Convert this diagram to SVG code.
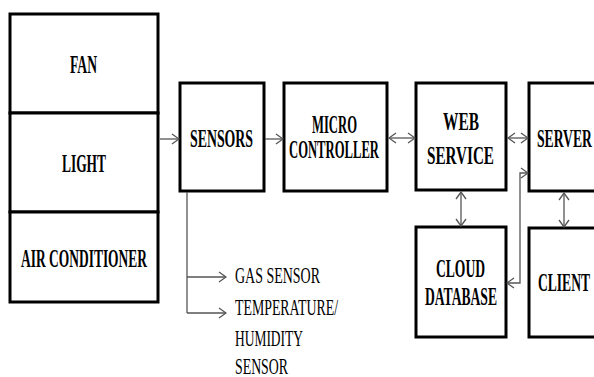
<svg xmlns="http://www.w3.org/2000/svg" width="594" height="377" viewBox="0 0 594 377">
<style>
.box{fill:#fff;stroke:#000;stroke-width:3}
.lbl{font-family:"Liberation Serif","Times New Roman",serif;font-weight:bold;font-size:25px;fill:#000}
.sub{font-family:"Liberation Serif","Times New Roman",serif;font-size:24px;fill:#000}
.conn{fill:none;stroke:#555;stroke-width:1.3}
</style>
<defs>
<marker id="ah" viewBox="0 0 10 12" refX="9" refY="6" markerWidth="10" markerHeight="12" markerUnits="userSpaceOnUse" orient="auto-start-reverse">
<path d="M2,1 L9,6 L2,11" fill="none" stroke="#555" stroke-width="1.3"/>
</marker>
</defs>
<rect width="594" height="377" fill="#fff"/>
<g id="fan">
<rect class="box" x="10" y="14" width="148" height="99"/>
<text class="lbl" x="70" y="73" textLength="27" lengthAdjust="spacingAndGlyphs">FAN</text>
</g>
<g id="light">
<rect class="box" x="10" y="113" width="148" height="99"/>
<text class="lbl" x="62" y="172" textLength="44" lengthAdjust="spacingAndGlyphs">LIGHT</text>
</g>
<g id="air-conditioner">
<rect class="box" x="10" y="212" width="148" height="90"/>
<text class="lbl" x="21" y="267" textLength="126" lengthAdjust="spacingAndGlyphs">AIR CONDITIONER</text>
</g>
<g id="sensors">
<rect class="box" x="180" y="83" width="84" height="108"/>
<text class="lbl" x="190" y="147" textLength="63" lengthAdjust="spacingAndGlyphs">SENSORS</text>
</g>
<g id="micro-controller">
<rect class="box" x="284" y="83" width="103" height="108"/>
<text class="lbl" x="312" y="133" textLength="45" lengthAdjust="spacingAndGlyphs" font-size="22">MICRO</text>
<text class="lbl" x="289" y="158" textLength="90" lengthAdjust="spacingAndGlyphs" font-size="22">CONTROLLER</text>
</g>
<g id="web-service">
<rect class="box" x="416" y="83" width="90" height="107"/>
<text class="lbl" x="443" y="130" textLength="36" lengthAdjust="spacingAndGlyphs" font-size="27">WEB</text>
<text class="lbl" x="427" y="164" textLength="67" lengthAdjust="spacingAndGlyphs" font-size="27">SERVICE</text>
</g>
<g id="server">
<rect class="box" x="529" y="83" width="80" height="108"/>
<text class="lbl" x="537" y="147" textLength="55" lengthAdjust="spacingAndGlyphs" font-size="26">SERVER</text>
</g>
<g id="cloud-database">
<rect class="box" x="416" y="227" width="90" height="110"/>
<text class="lbl" x="436" y="277" textLength="49" lengthAdjust="spacingAndGlyphs">CLOUD</text>
<text class="lbl" x="425" y="305" textLength="72" lengthAdjust="spacingAndGlyphs">DATABASE</text>
</g>
<g id="client">
<rect class="box" x="529" y="228" width="80" height="109"/>
<text class="lbl" x="538" y="291" textLength="52" lengthAdjust="spacingAndGlyphs" font-size="26">CLIENT</text>
</g>
<g id="sensor-list">
<text class="sub" x="235" y="283" textLength="85" lengthAdjust="spacingAndGlyphs">GAS SENSOR</text>
<text class="sub" x="235" y="315" textLength="103" lengthAdjust="spacingAndGlyphs">TEMPERATURE/</text>
<text class="sub" x="235" y="346" textLength="68" lengthAdjust="spacingAndGlyphs">HUMIDITY</text>
<text class="sub" x="235" y="374" textLength="53" lengthAdjust="spacingAndGlyphs">SENSOR</text>
</g>
<g id="connectors">
<line class="conn" x1="160" y1="139" x2="179" y2="139" marker-end="url(#ah)"/>
<line class="conn" x1="265" y1="139" x2="283" y2="139" marker-end="url(#ah)"/>
<line class="conn" x1="389" y1="138" x2="415" y2="138" marker-start="url(#ah)" marker-end="url(#ah)"/>
<line class="conn" x1="508" y1="138" x2="528" y2="138" marker-start="url(#ah)" marker-end="url(#ah)"/>
<line class="conn" x1="461" y1="192" x2="461" y2="226" marker-start="url(#ah)" marker-end="url(#ah)"/>
<line class="conn" x1="564" y1="193" x2="564" y2="227" marker-start="url(#ah)" marker-end="url(#ah)"/>
<polyline class="conn" points="507,283 520,283 520,173 528,173" marker-start="url(#ah)" marker-end="url(#ah)"/>
<line class="conn" x1="187" y1="192" x2="187" y2="313"/>
<line class="conn" x1="187" y1="277" x2="226" y2="277" marker-end="url(#ah)"/>
<line class="conn" x1="187" y1="313" x2="226" y2="313" marker-end="url(#ah)"/>
</g>
</svg>
